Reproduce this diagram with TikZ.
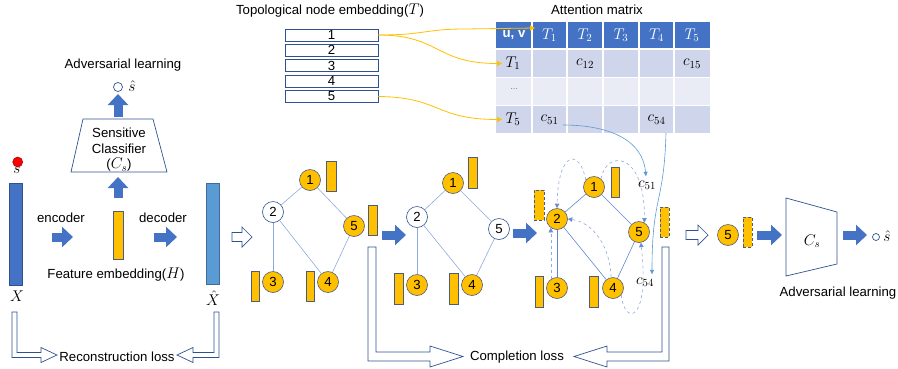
\documentclass[tikz,border=0pt]{standalone}
\usepackage{fix-cm}
\usepackage{fontspec}
\setmainfont{Liberation Sans}
\usetikzlibrary{arrows.meta,calc}
\definecolor{dblue}{HTML}{4472C4}
\definecolor{lblue}{HTML}{5B9BD5}
\definecolor{bord}{HTML}{2F528F}
\definecolor{yel}{HTML}{FFC000}
\definecolor{ybord}{HTML}{4D5B7C}
\definecolor{edgec}{HTML}{8FAADC}
\definecolor{rowa}{HTML}{CFD5EA}
\definecolor{rowb}{HTML}{E9EBF5}
\newcommand{\fs}{\fontsize{13.2}{15}\selectfont}
\newcommand{\fm}{\fontsize{15.5}{17}\selectfont}
\newcommand{\myhollow}[3]{\filldraw[hollow] (#1,{#3-4.5}) -- ({#2-10},{#3-4.5}) -- ({#2-10},{#3-10}) -- (#2,#3) -- ({#2-10},{#3+10}) -- ({#2-10},{#3+4.5}) -- (#1,{#3+4.5}) -- cycle;}
\begin{document}
\begin{tikzpicture}[x=1pt,y=-1pt,
  every node/.style={font=\fs, inner sep=0pt},
  mathtxt/.style={font=\fm},
  vbar/.style={draw=ybord, line width=0.6pt, fill=yel, minimum width=9pt, minimum height=30pt},
  dbar/.style={vbar, dash pattern=on 3pt off 2pt},
  ynode/.style={circle, draw=ybord, fill=yel, line width=0.6pt, minimum size=21pt},
  wnode/.style={circle, draw=bord, fill=white, line width=0.6pt, minimum size=21pt},
  gedge/.style={draw=edgec, line width=0.6pt},
  gedgeb/.style={draw=dblue!85, line width=0.6pt},
  darr/.style={draw=edgec, dashed, line width=0.6pt, -{Triangle[width=4.5pt,length=4.5pt,color=dblue!80]}},
  blockarr/.style={draw=dblue, line width=9pt, -{Triangle[width=20pt,length=11pt]}},
  hollow/.style={draw=bord, fill=white, line width=0.7pt, line join=miter},
  yarr/.style={draw=yel, line width=0.8pt, -{Triangle[width=5pt,length=5pt]}},
  barr/.style={draw=lblue, line width=0.6pt, -{Triangle[width=4pt,length=4.5pt]}},
  tbox/.style={draw=bord, fill=white, line width=0.7pt, minimum width=93pt, minimum height=12pt}
]
\useasboundingbox (0,0) rectangle (898,368);

% ---------- left part ----------
\node[mathtxt] at (17,170) {$s$};
\filldraw[fill=red, draw=red!60!black, line width=0.5pt] (17.7,162) circle (5);
\node[draw=bord, fill=dblue, line width=0.6pt, minimum width=13pt, minimum height=102pt] (Xbar) at (16,234) {};
\node[mathtxt] (Xl) at (17,296) {$X$};
\node[draw=lblue!70!black, fill=lblue, line width=0.6pt, minimum width=13pt, minimum height=101pt] (Xhbar) at (212.5,233.5) {};
\node[mathtxt] (Xhl) at (213,298) {$\hat{X}$};
\node[vbar, minimum width=10pt, minimum height=48pt] (H) at (118,235) {};
\node (enc) at (61,218) {encoder};
\node (dec) at (163,218) {decoder};
\node (Hl) at (116,275) {Feature embedding({\fm$H$})};
\draw[blockarr] (52,237) -- (73,237);
\draw[blockarr] (154,237) -- (177,237);
\draw[blockarr] (118,198) -- (118,177);
\draw[hollow, fill=none] (71,172) -- (167,172) -- (153,119) -- (83,119) -- cycle;
\node at (119,133) {Sensitive};
\node at (119,149) {Classifier};
\node at (119,165) {({\fm$C_s$})};
\draw[blockarr] (118,117) -- (118,94);
\draw[bord, line width=0.7pt, fill=white] (118,87) circle (4.5);
\node[mathtxt] at (132,86) {$\hat{s}$};
\node at (123,65) {Adversarial learning};

% reconstruction loss
\filldraw[hollow] (12,312) -- (12,357.5) -- (41,357.5) -- (41,362.5) -- (57,355) -- (41,347.5) -- (41,352.5) -- (17,352.5) -- (17,312) -- cycle;
\filldraw[hollow] (219,312) -- (219,357.5) -- (193,357.5) -- (193,362.5) -- (177,355) -- (193,347.5) -- (193,352.5) -- (214,352.5) -- (214,312) -- cycle;
\node (recl) at (117,357) {Reconstruction loss};

\myhollow{232}{252}{237}

% ---------- topological embedding ----------
\node at (330,11) {Topological node embedding({\fm$T$})};
\node[tbox] (tb1) at (331.5,35) {1};
\node[tbox] (tb2) at (331.5,50) {2};
\node[tbox] (tb3) at (331.5,65.5) {3};
\node[tbox] (tb4) at (331.5,81) {4};
\node[tbox] (tb5) at (331.5,96.5) {5};

% ---------- attention matrix ----------
\node at (597,10) {Attention matrix};
\fill[dblue] (496,22) rectangle (710,48);
\fill[rowa] (496,50) rectangle (710,77);
\fill[rowb] (496,78) rectangle (710,105);
\fill[rowa] (496,106) rectangle (710,133);
\foreach \x in {532,567,603,639,674} \draw[white, line width=1.5pt] (\x,22) -- (\x,133);
\node[text=white, font=\fs\bfseries] (huv) at (514,35) {u, v};
\node[mathtxt, text=white] (h1) at (549.5,35) {$T_1$};
\node[mathtxt, text=white] (h2) at (585,35) {$T_2$};
\node[mathtxt, text=white] (h3) at (621,35) {$T_3$};
\node[mathtxt, text=white] (h4) at (656.5,35) {$T_4$};
\node[mathtxt, text=white] (h5) at (692,35) {$T_5$};
\node[mathtxt] (r1) at (513,63.5) {$T_1$};
\node[text=gray, font=\fontsize{9}{10}\selectfont] (r2) at (514,89) {...};
\node[mathtxt] (r3) at (513,119.5) {$T_5$};
\node[mathtxt] (c12) at (585,63.5) {$c_{12}$};
\node[mathtxt] (c15) at (692,63.5) {$c_{15}$};
\node[mathtxt] (c51) at (549.5,119.5) {$c_{51}$};
\node[mathtxt] (c54) at (656.5,119.5) {$c_{54}$};
\coordinate (h1in) at (535,28);
\coordinate (r1in) at (502,63.5);
\coordinate (r3in) at (502,119.5);
\draw[yarr] (tb1.east) .. controls (425,35) and (425,29) .. (465,29) -- (h1in);
\draw[yarr] (tb1.east) .. controls (440,35) and (435,63.5) .. (r1in);
\draw[yarr] (tb5.east) .. controls (440,97) and (435,119.5) .. (r3in);

% ---------- graph 1 ----------
\node[ynode] (g1n1) at (310,180) {1};
\node[wnode] (g1n2) at (273,212) {2};
\node[ynode] (g1n5) at (354,226) {5};
\node[ynode] (g1n3) at (273,282) {3};
\node[ynode] (g1n4) at (328,282) {4};
\node[vbar, minimum width=10pt] at (331,176) {};
\node[vbar] (g1b5) at (372.5,220) {};
\node[vbar, minimum width=8pt] at (255,286) {};
\node[vbar, minimum width=8pt] at (310,286) {};
\draw[gedge] (g1n1) -- (g1n2);
\draw[gedge] (g1n1) -- (g1n5);
\draw[gedge] (g1n2) -- (g1n3);
\draw[gedge] (g1n2) -- (g1n4);
\draw[gedge] (g1n5) -- (g1n4);
\draw[blockarr] (382,235) -- (406,235);

% ---------- graph 2 ----------
\node[ynode] (g2n1) at (453,183) {1};
\node[wnode] (g2n2) at (417,217) {2};
\node[wnode] (g2n5) at (499,229) {5};
\node[ynode] (g2n3) at (417,285) {3};
\node[ynode] (g2n4) at (472,285) {4};
\node[vbar, minimum height=31pt] at (472.5,172.5) {};
\node[vbar, minimum height=31pt] at (398.5,288.5) {};
\node[vbar, minimum height=31pt] at (453.5,288.5) {};
\draw[gedge] (g2n1) -- (g2n2);
\draw[gedge] (g2n1) -- (g2n5);
\draw[gedge] (g2n2) -- (g2n3);
\draw[gedge] (g2n2) -- (g2n4);
\draw[gedge] (g2n5) -- (g2n4);
\draw[blockarr] (513,233) -- (537,233);

% ---------- graph 3 ----------
\node[ynode] (g3n1) at (594,187) {1};
\node[ynode] (g3n2) at (557,219) {2};
\node[ynode] (g3n5) at (639,232) {5};
\node[ynode] (g3n3) at (557,288) {3};
\node[ynode] (g3n4) at (613,288) {4};
\node[vbar, minimum width=8pt] at (615,182) {};
\node[dbar, minimum width=10pt] at (539,205) {};
\node[dbar] (g3b5) at (664.5,222) {};
\node[vbar, minimum width=8pt, minimum height=31pt] at (539,291.5) {};
\node[vbar, minimum height=31pt] at (593.5,291.5) {};
\draw[gedgeb] (g3n1) -- (g3n2);
\draw[gedgeb] (g3n1) -- (g3n5);
\draw[gedgeb] (g3n2) -- (g3n3);
\draw[gedgeb] (g3n2) -- (g3n4);
\draw[gedgeb] (g3n4) -- (g3n5);
\draw[darr] (g3n1.140) .. controls (580,148) and (558,150) .. (g3n2.north);
\draw[darr] (g3n1.50) .. controls (606,150) and (645,150) .. (g3n5.60);
\draw[darr] (g3n3.125) -- (g3n2.235);
\draw[darr] (g3n4.100) .. controls (610,245) and (592,222) .. (g3n2.east);
\draw[darr] (g3n4.-40) .. controls (624,325) and (650,325) .. (g3n5.-80);
\node[mathtxt] (lc51) at (647,185) {$c_{51}$};
\node[mathtxt] (lc54) at (645,282) {$c_{54}$};
\coordinate (c51s) at (563,125);
\coordinate (c54s) at (666,133);
\draw[barr] (c51s) .. controls (600,125) and (642,135) .. ($(lc51.north)+(-1,-4)$);
\draw[barr] (c54s) .. controls (664,205) and (652,195) .. ($(lc54.north)+(7,-3)$);

% completion loss
\filldraw[hollow] (368,247) -- (368,361) -- (430,361) -- (430,367) -- (463,356.5) -- (430,346) -- (430,352) -- (376,352) -- (376,247) -- cycle;
\filldraw[hollow] (669,247) -- (669,361) -- (607,361) -- (607,367) -- (574,356.5) -- (607,346) -- (607,352) -- (662,352) -- (662,247) -- cycle;
\node (coml) at (517,357) {Completion loss};

% ---------- right part ----------
\myhollow{686}{708}{235}
\node[ynode] (rn5) at (728,235) {5};
\node[dbar] (rb5) at (747.5,232) {};
\draw[blockarr] (757,235) -- (782,235);
\draw[hollow, fill=none] (786,198) -- (837,212) -- (837,264) -- (786,276) -- cycle;
\node[mathtxt] at (812,241) {$C_s$};
\draw[blockarr] (843,235) -- (867,235);
\draw[bord, line width=0.7pt, fill=white] (876,237) circle (3.5);
\node[mathtxt] at (887,236) {$\hat{s}$};
\node at (838,293) {Adversarial learning};
\end{tikzpicture}
\end{document}
